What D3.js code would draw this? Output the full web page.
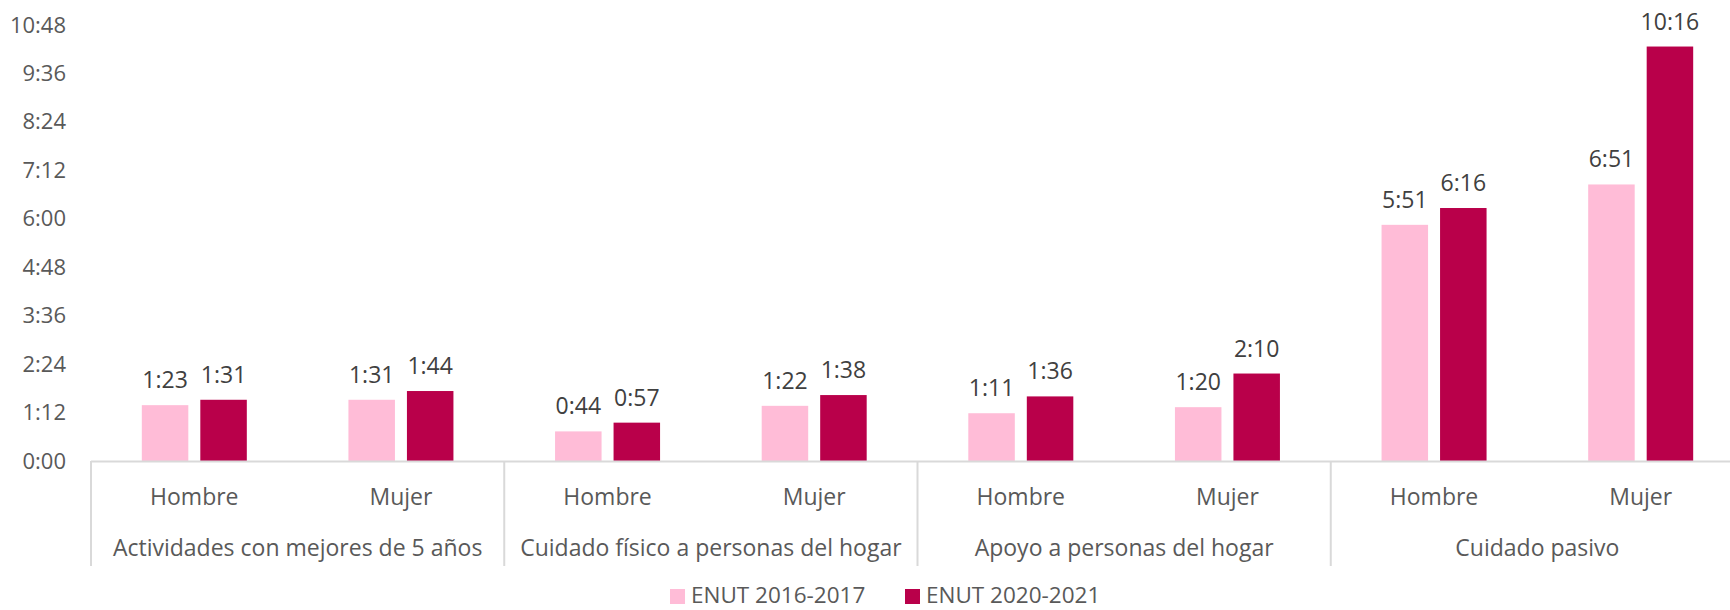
<!DOCTYPE html>
<html>
<head>
<meta charset="utf-8">
<script src="https://cdn.jsdelivr.net/npm/d3@7"></script>
<style>
  body { margin: 0; background: #fff; }
  svg { display: block; font-family: "Open Sans", "Noto Sans", sans-serif; }
</style>
</head>
<body>
<div id="chart"></div>
<script>
// data (minutes)
const grupos = ["Actividades con mejores de 5 años", "Cuidado físico a personas del hogar", "Apoyo a personas del hogar", "Cuidado pasivo"]
const sexos = ["Hombre", "Mujer"]
const series = ["ENUT 2016-2017", "ENUT 2020-2021"]
const enut2016 = [83, 91, 44, 82, 71, 80, 351, 411]
const enut2020 = [91, 104, 57, 98, 96, 130, 376, 616]
const yTicks = [0, 72, 144, 216, 288, 360, 432, 504, 576, 648]
const colores = ["#FFBCD7", "#B9004A"]

const fmt = m => Math.floor(m / 60) + ":" + String(m % 60).padStart(2, "0")

const width = 1730, height = 610
const svg = d3.select("#chart").append("svg")
    .attr("width", width)
    .attr("height", height)

// one slot per group/sex
const slots = []
grupos.forEach((g, gi) => sexos.forEach((s, si) => slots.push({g: gi, s: s, i: gi * 2 + si})))

const x0 = d3.scaleBand()
    .domain(slots.map(d => d.i))
    .range([91, 1744])
    .padding(0)
const half = x0.bandwidth() / 2
const x1 = d3.scaleBand()
    .domain(series)
    .range([half - 52.5, half + 52.5])
    .paddingInner(0.205)
const y = d3.scaleLinear()
    .domain([0, 648])
    .range([461, 25])

// y axis labels
svg.append("g")
    .attr("transform", `translate(66,0)`)
    .call(d3.axisLeft(y).tickValues(yTicks).tickSize(0).tickPadding(0).tickFormat(fmt))
    .call(g => g.select(".domain").remove())
    .call(g => g.selectAll("text")
        .attr("fill", "#595959")
        .style("font-size", "22px")
        .style("font-family", "'Open Sans', sans-serif"))

// bars
const vals = [enut2016, enut2020]
const barData = []
slots.forEach(sl => series.forEach((se, k) => barData.push({slot: sl.i, serie: se, k: k, v: vals[k][sl.i]})))

svg.append("g").selectAll("rect")
    .data(barData)
    .join("rect")
    .attr("x", d => x0(d.slot) + x1(d.serie))
    .attr("y", d => y(d.v))
    .attr("width", x1.bandwidth())
    .attr("height", d => y(0) - y(d.v))
    .attr("fill", d => colores[d.k])

svg.append("g").selectAll("text")
    .data(barData)
    .join("text")
    .attr("x", d => x0(d.slot) + x1(d.serie) + x1.bandwidth() / 2)
    .attr("y", d => y(d.v) - 17)
    .attr("text-anchor", "middle")
    .attr("fill", "#404040")
    .style("font-size", "23px")
    .text(d => fmt(d.v))

// category axis
const axisCol = "#d9d9d9"
svg.append("line")
    .attr("x1", x0.range()[0]).attr("x2", x0.range()[1])
    .attr("y1", y(0) + 0.5).attr("y2", y(0) + 0.5)
    .attr("stroke", axisCol).attr("stroke-width", 2)

const seps = d3.range(grupos.length + 1).map(i => x0.range()[0] + i * 2 * x0.bandwidth())
svg.append("g").selectAll("line")
    .data(seps)
    .join("line")
    .attr("x1", d => d).attr("x2", d => d)
    .attr("y1", y(0)).attr("y2", 566)
    .attr("stroke", axisCol).attr("stroke-width", 2)

svg.append("g").selectAll("text")
    .data(slots)
    .join("text")
    .attr("x", d => x0(d.i) + half)
    .attr("y", 505)
    .attr("text-anchor", "middle")
    .attr("fill", "#595959")
    .style("font-size", "23px")
    .text(d => d.s)

svg.append("g").selectAll("text")
    .data(grupos)
    .join("text")
    .attr("x", (d, i) => seps[i] + x0.bandwidth())
    .attr("y", 556)
    .attr("text-anchor", "middle")
    .attr("fill", "#595959")
    .style("font-size", "23px")
    .text(d => d)

// legend
const legX = [670, 905]
const leg = svg.append("g").selectAll("g")
    .data(series)
    .join("g")
    .attr("transform", (d, i) => `translate(${legX[i]},589)`)
leg.append("rect")
    .attr("width", 15).attr("height", 15)
    .attr("fill", (d, i) => colores[i])
leg.append("text")
    .attr("x", 21).attr("y", 14)
    .attr("fill", "#595959")
    .style("font-size", "22.5px")
    .text(d => d)
</script>
</body>
</html>
